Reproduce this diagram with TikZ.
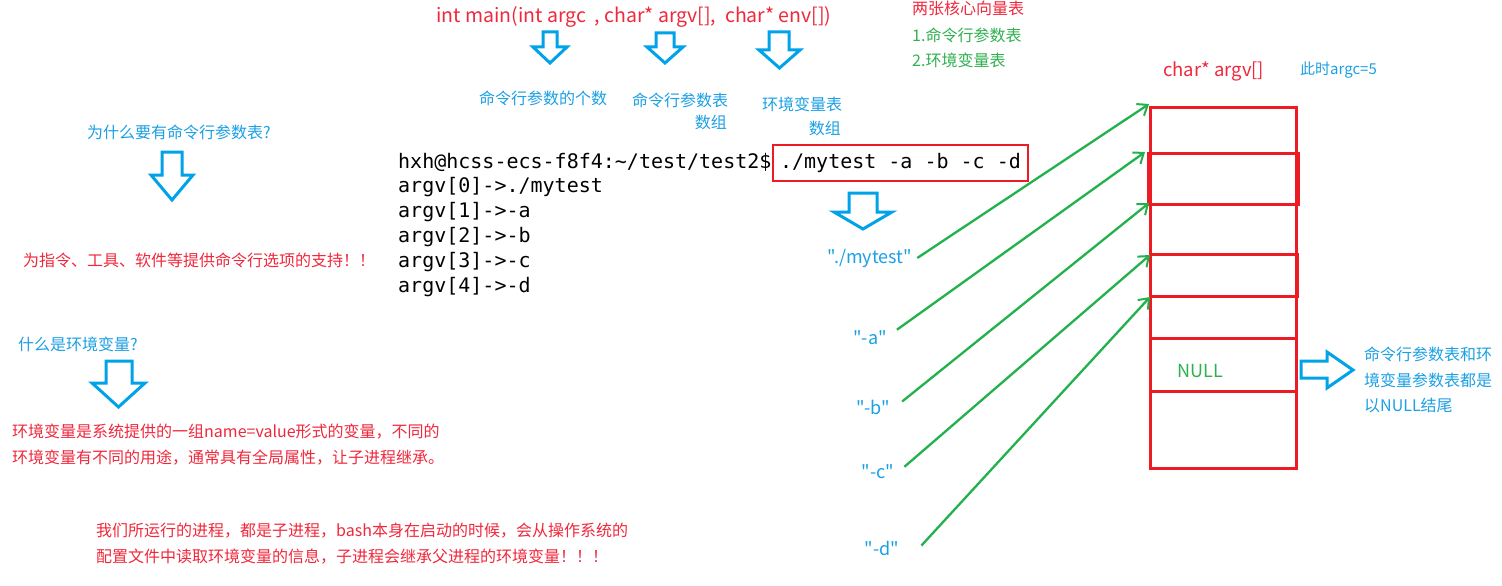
\documentclass[tikz,border=0pt]{standalone}
\usepackage{fontspec}
\newfontfamily\cjk{Noto Sans CJK SC}
\newfontfamily\mono{DejaVu Sans Mono}
\usetikzlibrary{arrows.meta}
\definecolor{pred}{HTML}{ED1C24}
\definecolor{tred}{HTML}{F0283C}
\definecolor{pblue}{HTML}{00A2E8}
\definecolor{tblue}{HTML}{1CA0E4}
\definecolor{pgreen}{HTML}{22B14C}
\definecolor{tgreen}{HTML}{30B050}
\newcommand\dnarrow[7]{\draw[hollow] (#3,#5) -- (#4,#5) -- (#4,#6) -- (#2,#6) -- ({(#1+#2)/2},#7) -- (#1,#6) -- (#3,#6) -- cycle;}
\begin{document}
\begin{tikzpicture}[x=1pt,y=-1pt,
  every node/.style={inner sep=0pt},
  cn/.style={font=\cjk\fontsize{16}{18}\selectfont},
  bluetxt/.style={cn, text=tblue},
  redtxt/.style={cn, text=tred},
  greentxt/.style={cn, text=tgreen},
  term/.style={font=\mono\fontsize{20}{25}\selectfont, anchor=west},
  hollow/.style={draw=pblue, line width=3pt, line join=miter},
  cell/.style={draw=pred, line width=3pt},
  link/.style={draw=pgreen, line width=2.3pt, -{Straight Barb[length=9pt,width=14pt,line width=2pt]}},
  argl/.style={font=\cjk\fontsize{18}{20}\selectfont, text=tblue}]
\path[use as bounding box, fill=white] (0,0) rectangle (1502,586);

% top signature
\node[font=\cjk\fontsize{19.5}{22}\selectfont, text=tred, anchor=west] (sig) at (436,17) {int main(int argc\ \ , char* argv[],\ \ char* env[])};
\dnarrow{533}{567}{543}{557}{32}{47}{63}
\dnarrow{647}{683}{656}{674}{33}{47}{63}
\dnarrow{759}{800}{769}{789}{32}{50}{68}
\node[bluetxt, anchor=west] (cnt) at (479,98) {命令行参数的个数};
\node[bluetxt, anchor=west] (argtab) at (632,100) {命令行参数表};
\node[bluetxt, anchor=east] (argtab2) at (727,122) {数组};
\node[bluetxt, anchor=west] (envtab) at (762,104) {环境变量表};
\node[bluetxt, anchor=east] (envtab2) at (841,128) {数组};

% two tables
\node[redtxt, anchor=west] (two) at (912,8) {两张核心向量表};
\node[greentxt, anchor=west] (t1) at (912,35) {1.命令行参数表};
\node[greentxt, anchor=west] (t2) at (912,60) {2.环境变量表};

% left texts
\node[bluetxt, anchor=west] (q1) at (87,132) {为什么要有命令行参数表?};
\dnarrow{151}{193}{162}{182}{152}{175}{200}
\node[redtxt, anchor=west] (a1) at (23,260) {为指令、工具、软件等提供命令行选项的支持！！};
\node[bluetxt, anchor=west] (q2) at (18,344) {什么是环境变量?};
\dnarrow{92}{145}{106}{132}{361}{383}{407}
\node[redtxt, anchor=west] (a2) at (12,432) {环境变量是系统提供的一组name=value形式的变量，不同的};
\node[redtxt, anchor=west] (a3) at (12,458) {环境变量有不同的用途，通常具有全局属性，让子进程继承。};
\node[redtxt, anchor=west] (b1) at (96,531) {我们所运行的进程，都是子进程，bash本身在启动的时候，会从操作系统的};
\node[redtxt, anchor=west] (b2) at (96,557) {配置文件中读取环境变量的信息，子进程会继承父进程的环境变量！！！};

% terminal
\node[term] (prompt) at (398,162) {hxh@hcss-ecs-f8f4:\textasciitilde/test/test2\$};
\node[font=\mono\fontsize{20}{25}\selectfont, draw=pred, line width=2.5pt, minimum width=255pt, minimum height=36pt] (cmd) at (900.5,163) {./mytest -a -b -c -d};
\node[term] (l0) at (398,187) {argv[0]->./mytest};
\node[term] (l1) at (398,212) {argv[1]->-a};
\node[term] (l2) at (398,237) {argv[2]->-b};
\node[term] (l3) at (398,262) {argv[3]->-c};
\node[term] (l4) at (398,287) {argv[4]->-d};
\dnarrow{834}{892}{849}{877}{193}{212}{229}

% argument labels
\node[argl] (m0) at (870,258) {"./mytest"};
\node[argl] (ma) at (870,338) {"-a"};
\node[argl] (mb) at (873,407) {"-b"};
\node[argl] (mc) at (878,472) {"-c"};
\node[argl] (md) at (882,548) {"-d"};

% array
\node[font=\cjk\fontsize{18.5}{20}\selectfont, text=tred, anchor=west] (argvt) at (1163,71) {char* argv[]};
\node[cn, text=tblue, font=\cjk\fontsize{15}{18}\selectfont, anchor=west] (argc) at (1300,70) {此时argc=5};
\draw[cell] (1150,107) rectangle (1296,468);
\draw[cell] (1148,153) rectangle (1298,204);
\draw[cell, line width=4pt] (1149,155) -- (1149,202);
\draw[cell] (1150,254) rectangle (1297,296);
\draw[cell] (1150,338) rectangle (1296,391);
\node[font=\cjk\fontsize{18}{20}\selectfont, text=tgreen] (null) at (1200,371) {NULL};
\coordinate (c0) at (1149,104);
\coordinate (c1) at (1145,152);
\coordinate (c2) at (1149,203);
\coordinate (c3) at (1150,255);
\coordinate (c4) at (1150,297);
\path[link] ([xshift=5pt]m0.east) -- (c0);
\path[link] ([xshift=10pt,yshift=1pt]ma.north east) -- (c1);
\path[link] ([xshift=12pt,yshift=-2pt]mb.north east) -- (c2);
\path[link] ([xshift=10pt,yshift=-2pt]mc.north east) -- (c3);
\path[link] ([xshift=22pt,yshift=-5pt]md.north east) -- (c4);

% right arrow and note
\draw[hollow] (1301,361) -- (1327,361) -- (1327,352) -- (1353,370) -- (1327,388) -- (1327,378) -- (1301,378) -- cycle;
\node[bluetxt, anchor=west] (n1) at (1364,354) {命令行参数表和环};
\node[bluetxt, anchor=west] (n2) at (1364,380) {境变量参数表都是};
\node[bluetxt, anchor=west] (n3) at (1364,405) {以NULL结尾};
\end{tikzpicture}
\end{document}
